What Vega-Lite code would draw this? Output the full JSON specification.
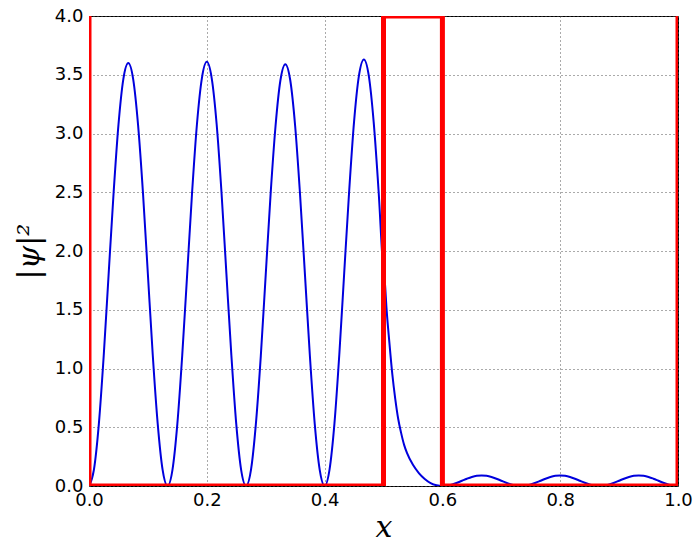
{
  "$schema": "https://vega.github.io/schema/vega-lite/v6.json",
  "width": 589,
  "height": 470,
  "autosize": {"type": "none"},
  "padding": {"left": 89, "top": 16, "right": 20, "bottom": 62},
  "background": "white",
  "config": {
    "view": {"stroke": "black", "strokeWidth": 1},
    "axis": {
      "domain": false,
      "ticks": false,
      "grid": true,
      "gridColor": "#555",
      "gridDash": [1, 3],
      "gridWidth": 1,
      "labelFont": "DejaVu Sans",
      "labelFontSize": 18,
      "labelColor": "black",
      "labelFlush": false,
      "labelOverlap": false,
      "labelBound": false,
      "titleColor": "black",
      "titleFontWeight": "normal"
    }
  },
  "datasets": {
    "psi": [
      {"x": 0, "y": 0}, {"x": 0.0083, "y": 0.137}, {"x": 0.0167, "y": 0.527}, {"x": 0.025, "y": 1.111}, {"x": 0.0333, "y": 1.8}, {"x": 0.0417, "y": 2.489}, {"x": 0.05, "y": 3.073}, {"x": 0.0583, "y": 3.463}, {"x": 0.0667, "y": 3.6},
      {"x": 0.075, "y": 3.463}, {"x": 0.0833, "y": 3.073}, {"x": 0.0917, "y": 2.489}, {"x": 0.1, "y": 1.8}, {"x": 0.1083, "y": 1.111}, {"x": 0.1167, "y": 0.527}, {"x": 0.125, "y": 0.137}, {"x": 0.1333, "y": 0},
      {"x": 0.1417, "y": 0.138}, {"x": 0.15, "y": 0.529}, {"x": 0.1583, "y": 1.114}, {"x": 0.1667, "y": 1.805}, {"x": 0.175, "y": 2.496}, {"x": 0.1833, "y": 3.081}, {"x": 0.1917, "y": 3.472}, {"x": 0.2, "y": 3.61},
      {"x": 0.2083, "y": 3.472}, {"x": 0.2167, "y": 3.081}, {"x": 0.225, "y": 2.496}, {"x": 0.2333, "y": 1.805}, {"x": 0.2417, "y": 1.114}, {"x": 0.25, "y": 0.529}, {"x": 0.2583, "y": 0.138}, {"x": 0.2667, "y": 0},
      {"x": 0.275, "y": 0.137}, {"x": 0.2833, "y": 0.526}, {"x": 0.2917, "y": 1.108}, {"x": 0.3, "y": 1.795}, {"x": 0.3083, "y": 2.482}, {"x": 0.3167, "y": 3.064}, {"x": 0.325, "y": 3.453}, {"x": 0.3333, "y": 3.59},
      {"x": 0.3417, "y": 3.453}, {"x": 0.35, "y": 3.064}, {"x": 0.3583, "y": 2.482}, {"x": 0.3667, "y": 1.795}, {"x": 0.375, "y": 1.108}, {"x": 0.3833, "y": 0.526}, {"x": 0.3917, "y": 0.137}, {"x": 0.4, "y": 0},
      {"x": 0.4083, "y": 0.138}, {"x": 0.4167, "y": 0.531}, {"x": 0.425, "y": 1.121}, {"x": 0.4333, "y": 1.815}, {"x": 0.4417, "y": 2.509}, {"x": 0.45, "y": 3.099}, {"x": 0.4583, "y": 3.492}, {"x": 0.4667, "y": 3.63},
      {"x": 0.475, "y": 3.492}, {"x": 0.4833, "y": 3.099}, {"x": 0.4917, "y": 2.509}, {"x": 0.5, "y": 1.815},
      {"x": 0.5025, "y": 1.72}, {"x": 0.505, "y": 1.52}, {"x": 0.51, "y": 1.22}, {"x": 0.515, "y": 0.95}, {"x": 0.52, "y": 0.74}, {"x": 0.525, "y": 0.57}, {"x": 0.53, "y": 0.45}, {"x": 0.535, "y": 0.35}, {"x": 0.54, "y": 0.28}, {"x": 0.55, "y": 0.18}, {"x": 0.56, "y": 0.11}, {"x": 0.57, "y": 0.06}, {"x": 0.58, "y": 0.025}, {"x": 0.59, "y": 0.006},
      {"x": 0.6, "y": 0}, {"x": 0.6083, "y": 0.0034}, {"x": 0.6167, "y": 0.0132}, {"x": 0.625, "y": 0.0278}, {"x": 0.6333, "y": 0.045}, {"x": 0.6417, "y": 0.0622}, {"x": 0.65, "y": 0.0768}, {"x": 0.6583, "y": 0.0866}, {"x": 0.6667, "y": 0.09},
      {"x": 0.675, "y": 0.0866}, {"x": 0.6833, "y": 0.0768}, {"x": 0.6917, "y": 0.0622}, {"x": 0.7, "y": 0.045}, {"x": 0.7083, "y": 0.0278}, {"x": 0.7167, "y": 0.0132}, {"x": 0.725, "y": 0.0034}, {"x": 0.7333, "y": 0},
      {"x": 0.7417, "y": 0.0034}, {"x": 0.75, "y": 0.0132}, {"x": 0.7583, "y": 0.0278}, {"x": 0.7667, "y": 0.045}, {"x": 0.775, "y": 0.0622}, {"x": 0.7833, "y": 0.0768}, {"x": 0.7917, "y": 0.0866}, {"x": 0.8, "y": 0.09},
      {"x": 0.8083, "y": 0.0866}, {"x": 0.8167, "y": 0.0768}, {"x": 0.825, "y": 0.0622}, {"x": 0.8333, "y": 0.045}, {"x": 0.8417, "y": 0.0278}, {"x": 0.85, "y": 0.0132}, {"x": 0.8583, "y": 0.0034}, {"x": 0.8667, "y": 0},
      {"x": 0.875, "y": 0.0034}, {"x": 0.8833, "y": 0.0132}, {"x": 0.8917, "y": 0.0278}, {"x": 0.9, "y": 0.045}, {"x": 0.9083, "y": 0.0622}, {"x": 0.9167, "y": 0.0768}, {"x": 0.925, "y": 0.0866}, {"x": 0.9333, "y": 0.09},
      {"x": 0.9417, "y": 0.0866}, {"x": 0.95, "y": 0.0768}, {"x": 0.9583, "y": 0.0622}, {"x": 0.9667, "y": 0.045}, {"x": 0.975, "y": 0.0278}, {"x": 0.9833, "y": 0.0132}, {"x": 0.9917, "y": 0.0034}, {"x": 1.0, "y": 0}
    ],
    "pot": [
      {"i": 0, "x": 0, "y": 4}, {"i": 1, "x": 0, "y": 0}, {"i": 2, "x": 0.5, "y": 0}, {"i": 3, "x": 0.5, "y": 4},
      {"i": 4, "x": 0.6, "y": 4}, {"i": 5, "x": 0.6, "y": 0}, {"i": 6, "x": 1, "y": 0}, {"i": 7, "x": 1, "y": 4}
    ]
  },
  "encoding": {
    "x": {
      "field": "x", "type": "quantitative",
      "scale": {"domain": [0, 1], "nice": false},
      "axis": {
        "values": [0, 0.2, 0.4, 0.6, 0.8, 1.0], "format": ".1f",
        "labelPadding": 5,
        "title": "x", "titleFont": "DejaVu Serif", "titleFontStyle": "italic", "titleFontSize": 30, "titlePadding": 3
      }
    },
    "y": {
      "field": "y", "type": "quantitative",
      "scale": {"domain": [0, 4], "nice": false},
      "axis": {
        "values": [0, 0.5, 1, 1.5, 2, 2.5, 3, 3.5, 4], "format": ".1f",
        "labelPadding": 6,
        "title": "|ψ|²", "titleFont": "DejaVu Serif", "titleFontStyle": "italic", "titleFontSize": 30, "titlePadding": 10
      }
    }
  },
  "layer": [
    {
      "data": {"name": "psi"},
      "mark": {"type": "line", "color": "#0000dd", "strokeWidth": 2, "clip": true, "interpolate": "monotone"}
    },
    {
      "data": {"name": "pot"},
      "mark": {"type": "line", "color": "#ff0000", "strokeWidth": 5, "clip": true, "strokeJoin": "miter"},
      "encoding": {"order": {"field": "i", "type": "quantitative"}}
    }
  ]
}
